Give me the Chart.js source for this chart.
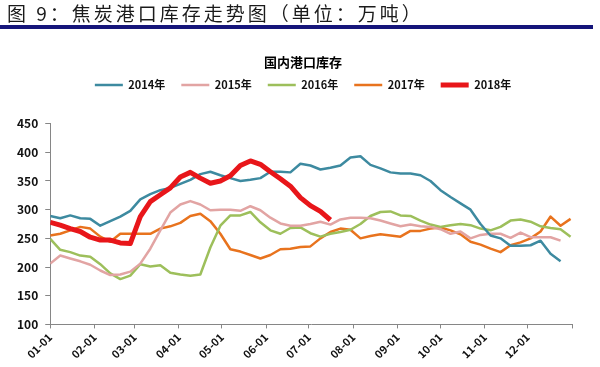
<!DOCTYPE html>
<html>
<head>
<meta charset="utf-8">
<script src="https://cdn.jsdelivr.net/npm/chart.js@4.4.0/dist/chart.umd.min.js"></script>
<style>
body { margin: 0; background: #fff; }
#wrap { position: relative; width: 600px; height: 367px; }
#hdr {
    position: absolute; left: 0; top: 0; width: 593px; height: 29px;
    box-sizing: border-box; border-bottom: 4px solid #15157a;
    padding-left: 7px; font-family: "Noto Sans CJK SC"; font-size: 19px;
    letter-spacing: 3px; line-height: 25px; color: #1a1a1a; white-space: nowrap; z-index: 2;
}
#box { position: absolute; left: 0; top: 0; width: 600px; height: 367px; }
</style>
</head>
<body>
<div id="wrap">
    <div id="hdr">图 9：焦炭港口库存走势图（单位：万吨）</div>
    <div id="box"><canvas id="chart"></canvas></div>
</div>
<script>
// Données hebdomadaires (万吨)
const yr2014 = [289,285,290,285,284,272,280,288,298,318,327,334,338,345,352,362,366,360,355,350,352,355,366,366,365,380,377,370,373,377,391,393,378,372,365,363,363,360,350,334,322,311,300,275,255,250,237,237,238,246,223,210];
const yr2015 = [206,220,215,210,204,194,186,187,192,206,232,264,295,309,315,309,299,300,300,298,306,299,286,276,272,272,275,279,274,283,286,286,285,281,276,271,274,271,270,266,258,262,250,256,258,258,251,260,252,252,252,246];
const yr2016 = [249,230,226,220,218,205,189,179,185,205,201,203,190,187,185,187,234,272,290,290,296,278,264,258,268,269,259,253,258,261,265,275,289,296,297,290,289,281,274,270,273,275,273,267,264,270,281,283,279,271,268,266,253];
const yr2017 = [255,258,264,270,267,253,244,258,258,258,258,267,271,277,289,293,280,258,231,227,221,215,221,231,232,235,236,250,261,267,265,250,254,257,255,253,263,263,267,269,264,257,244,239,232,226,238,243,250,262,288,272,284];
const yr2018 = [278,273,267,262,252,247,247,242,241,288,314,326,338,357,365,355,346,350,359,377,385,379,366,354,341,321,307,297,282];

const seriesNames = ['2014年', '2015年', '2016年', '2017年', '2018年'];
const monthLabels = ['01-01','02-01','03-01','04-01','05-01','06-01','07-01','08-01','09-01','10-01','11-01','12-01',''];
const monthDays = [0,31,59,90,120,151,181,212,243,273,304,334,365];
const yTicks = [100,150,200,250,300,350,400,450];

const fontFamily = '"Noto Sans CJK SC", "Noto Sans", sans-serif';
const axisColor = '#868686';

// un point par semaine
function toPoints(arr) {
    return arr.map((v, i) => ({ x: i * 7, y: v }));
}

// espace sous la légende + titre/légende recentrés sur la page
const legendGap = {
    id: 'legendGap',
    beforeInit(chart) {
        const fit = chart.legend.fit;
        chart.legend.fit = function () {
            fit.bind(chart.legend)();
            this.height += 23;
        };
    },
    afterLayout(chart) {
        [chart.legend, chart.titleBlock].forEach(b => {
            if (b) { b.left += 12; b.right += 12; }
        });
    }
};

const ctx = document.getElementById('chart').getContext('2d');
new Chart(ctx, {
    type: 'line',
    data: {
        datasets: [
            { label: seriesNames[0], data: toPoints(yr2014), borderColor: '#3D8AA0', backgroundColor: '#3D8AA0', borderWidth: 2.5 },
            { label: seriesNames[1], data: toPoints(yr2015), borderColor: '#E2A4A3', backgroundColor: '#E2A4A3', borderWidth: 2.5 },
            { label: seriesNames[2], data: toPoints(yr2016), borderColor: '#9DBF5B', backgroundColor: '#9DBF5B', borderWidth: 2.5 },
            { label: seriesNames[3], data: toPoints(yr2017), borderColor: '#E8731E', backgroundColor: '#E8731E', borderWidth: 2.5 },
            { label: seriesNames[4], data: toPoints(yr2018), borderColor: '#E8161A', backgroundColor: '#E8161A', borderWidth: 5, order: -1 }
        ]
    },
    options: {
        responsive: true,
        maintainAspectRatio: false,
        animation: false,
        layout: { padding: { left: 10, right: 28, top: 0, bottom: 4 } },
        elements: { point: { radius: 0 }, line: { tension: 0, borderJoinStyle: 'round' } },
        plugins: {
            title: {
                display: true,
                text: '国内港口库存',
                color: '#000',
                font: { family: fontFamily, size: 13, weight: 'bold' },
                padding: { top: 54, bottom: -6 }
            },
            legend: {
                labels: {
                    usePointStyle: true,
                    pointStyle: 'line',
                    pointStyleWidth: 28,
                    padding: 16,
                    color: '#111',
                    font: { family: fontFamily, size: 11, weight: 'bold' },
                    sort: (a, b) => a.datasetIndex - b.datasetIndex
                }
            },
            tooltip: { enabled: false }
        },
        scales: {
            x: {
                type: 'linear',
                min: 0,
                max: 365,
                afterBuildTicks: scale => { scale.ticks = monthDays.map(v => ({ value: v })); },
                ticks: {
                    autoSkip: false,
                    maxRotation: 45,
                    minRotation: 45,
                    padding: 2,
                    color: '#111',
                    font: { family: fontFamily, size: 11, weight: 'bold' },
                    callback: (v, i) => monthLabels[i]
                },
                grid: { drawOnChartArea: false, tickLength: 4, color: axisColor },
                border: { color: axisColor }
            },
            y: {
                min: 100,
                max: 450,
                afterBuildTicks: scale => { scale.ticks = yTicks.map(v => ({ value: v })); },
                ticks: {
                    padding: 7,
                    color: '#111',
                    font: { family: fontFamily, size: 12, weight: 'bold' }
                },
                grid: { drawOnChartArea: false, tickLength: 5, color: axisColor },
                border: { color: axisColor }
            }
        }
    },
    plugins: [legendGap]
});
</script>
</body>
</html>
